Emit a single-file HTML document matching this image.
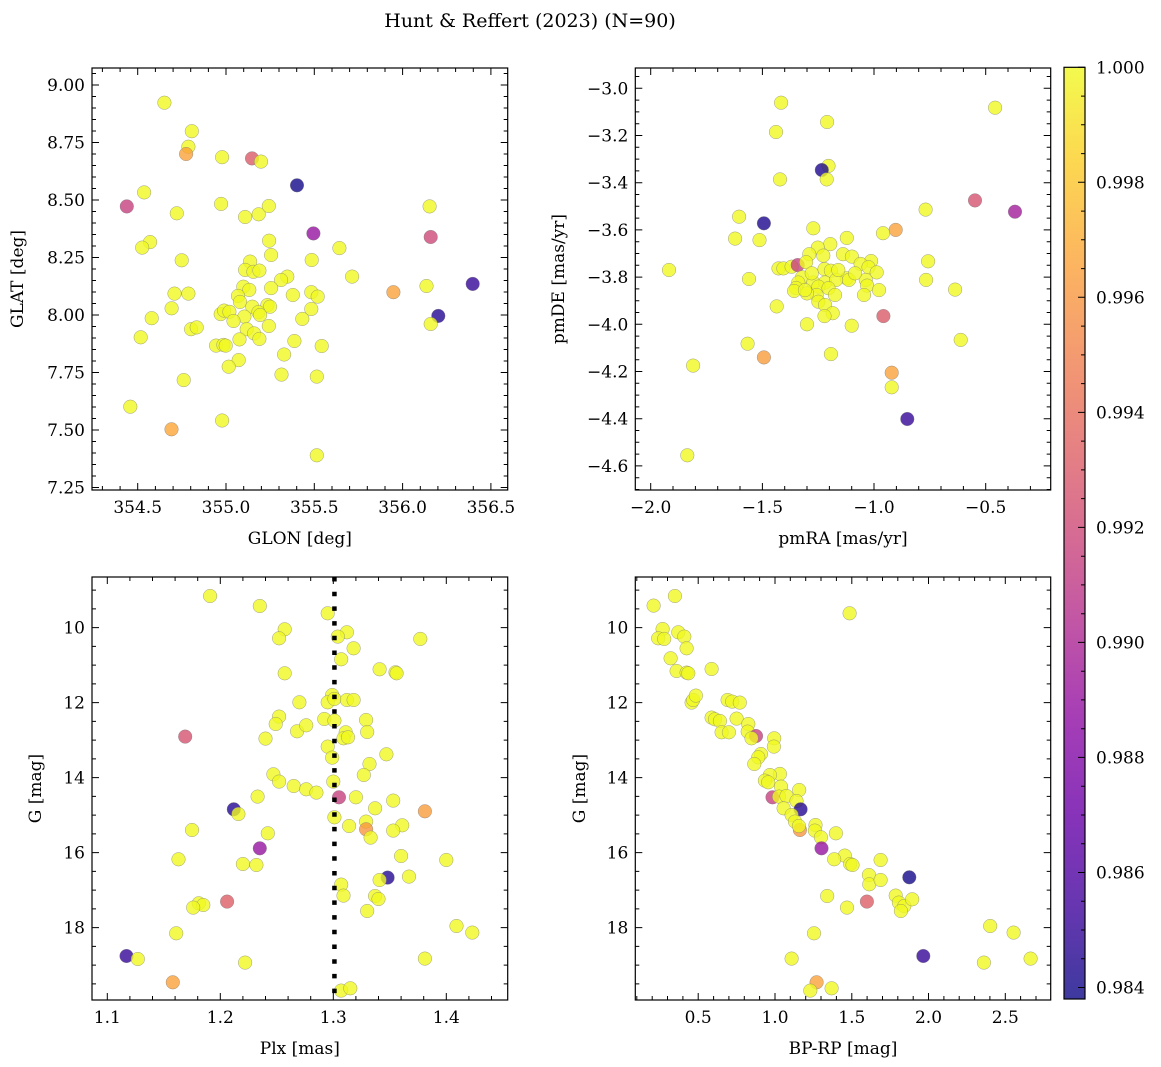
<!DOCTYPE html>
<html><head><meta charset="utf-8">
<style>
html,body{margin:0;padding:0;background:#fff;}
svg{display:block;font-family:"DejaVu Serif","Liberation Serif",serif;}
</style></head>
<body>
<svg id="fig" width="1161" height="1067" viewBox="0 0 1161 1067" xmlns="http://www.w3.org/2000/svg">
<text x="530" y="27" font-size="19" text-anchor="middle">Hunt &amp; Reffert (2023) (N=90)</text>
</svg>
<script>
// ---- data ----
const glon = [354.651,354.806,354.787,354.774,354.978,355.147,355.198,355.402,354.536,354.438,354.972,354.721,355.108,355.185,355.242,356.153,355.495,356.159,354.570,354.525,355.244,355.642,355.255,354.749,355.485,355.136,355.108,355.155,355.189,355.714,355.347,355.312,356.135,356.397,355.948,354.708,354.787,355.098,355.132,355.255,355.378,355.483,355.519,355.068,355.079,354.692,355.149,355.234,355.249,355.483,354.970,354.989,355.019,355.183,355.193,355.104,355.042,356.202,356.159,354.579,354.802,354.834,355.432,355.242,355.117,355.159,355.189,355.076,354.517,355.387,354.944,354.985,354.998,355.542,355.329,355.072,355.015,355.314,355.514,354.760,354.458,354.978,354.691,355.514];
const glat = [8.923,8.799,8.732,8.700,8.686,8.681,8.667,8.564,8.533,8.472,8.483,8.442,8.426,8.438,8.474,8.472,8.355,8.339,8.317,8.293,8.323,8.291,8.261,8.238,8.239,8.232,8.196,8.188,8.193,8.167,8.167,8.152,8.126,8.135,8.099,8.093,8.093,8.123,8.109,8.117,8.087,8.099,8.080,8.083,8.057,8.029,8.036,8.043,8.036,8.026,8.004,8.019,8.014,8.012,8.000,7.993,7.974,7.996,7.961,7.986,7.938,7.946,7.983,7.952,7.938,7.920,7.896,7.894,7.903,7.887,7.867,7.870,7.867,7.865,7.828,7.804,7.775,7.741,7.732,7.717,7.601,7.541,7.503,7.390];
const probPos = [1,1,1,0.9965,1,0.993,1,0.984,1,0.9915,1,1,1,1,1,1,0.989,0.992,1,1,1,1,1,1,1,1,1,1,1,1,1,1,1,0.985,0.9965,1,1,1,1,1,1,1,1,1,1,1,1,1,1,1,1,1,1,1,1,1,1,0.9845,1,1,1,1,1,1,1,1,1,1,1,1,1,1,1,1,1,1,1,1,1,1,1,1,0.9967,1];

const pmra = [-1.416,-0.458,-1.210,-1.439,-1.204,-1.234,-1.212,-1.421,-0.548,-0.369,-0.769,-1.604,-1.493,-1.272,-0.903,-0.960,-1.622,-1.513,-1.122,-1.196,-1.252,-1.290,-1.227,-1.139,-1.099,-1.013,-0.758,-1.918,-1.428,-1.406,-1.369,-1.342,-1.304,-1.222,-1.193,-1.060,-1.025,-0.988,-1.560,-0.767,-1.322,-1.339,-1.272,-1.122,-1.112,-1.037,-1.219,-1.170,-0.637,-1.349,-1.358,-1.249,-1.204,-1.031,-0.978,-1.045,-1.175,-1.257,-1.300,-1.249,-1.219,-1.436,-1.185,-1.222,-0.958,-1.300,-1.100,-0.612,-1.566,-1.193,-1.493,-1.810,-0.921,-0.921,-0.851,-1.836,-1.279,-1.160,-1.085,-1.309];
const pmde = [-3.061,-3.082,-3.143,-3.185,-3.329,-3.346,-3.386,-3.386,-3.475,-3.523,-3.514,-3.544,-3.572,-3.593,-3.600,-3.614,-3.637,-3.643,-3.634,-3.660,-3.675,-3.703,-3.709,-3.703,-3.713,-3.732,-3.733,-3.770,-3.763,-3.763,-3.756,-3.749,-3.737,-3.766,-3.773,-3.744,-3.758,-3.780,-3.808,-3.812,-3.801,-3.823,-3.823,-3.805,-3.812,-3.812,-3.823,-3.812,-3.853,-3.846,-3.859,-3.840,-3.847,-3.836,-3.855,-3.876,-3.876,-3.876,-3.869,-3.904,-3.918,-3.924,-3.953,-3.965,-3.965,-4.000,-4.006,-4.066,-4.082,-4.126,-4.140,-4.175,-4.205,-4.267,-4.401,-4.555,-3.784,-3.770,-3.784,-3.855];
const probPm = [1,1,1,1,1,0.9843,1,1,0.9925,0.9895,1,1,0.9843,1,0.9965,1,1,1,1,1,1,1,1,1,1,1,1,1,1,1,1,0.9915,1,1,1,1,1,1,1,1,1,1,1,1,1,1,1,1,1,1,1,1,1,1,1,1,1,1,1,1,1,1,1,1,0.993,1,1,1,1,1,0.9963,1,0.9965,1,0.985,1,1,1,1,1];

const plx = [1.191,1.235,1.295,1.257,1.252,1.312,1.304,1.377,1.318,1.307,1.257,1.341,1.355,1.356,1.270,1.299,1.295,1.301,1.312,1.318,1.252,1.249,1.292,1.301,1.329,1.268,1.276,1.330,1.169,1.240,1.311,1.309,1.313,1.295,1.299,1.347,1.332,1.327,1.247,1.252,1.265,1.276,1.285,1.300,1.305,1.320,1.233,1.353,1.337,1.381,1.212,1.216,1.301,1.329,1.314,1.361,1.329,1.353,1.333,1.175,1.242,1.235,1.360,1.163,1.400,1.220,1.232,1.348,1.341,1.367,1.307,1.309,1.337,1.340,1.181,1.185,1.176,1.206,1.330,1.409,1.423,1.161,1.117,1.127,1.222,1.381,1.158,1.307,1.315];
const gPlx = [9.156,9.422,9.618,10.044,10.284,10.124,10.240,10.302,10.551,10.844,11.218,11.111,11.191,11.218,11.991,11.796,11.991,11.902,11.929,11.929,12.373,12.569,12.436,12.480,12.462,12.764,12.604,12.782,12.907,12.960,12.791,12.951,12.924,13.173,13.467,13.378,13.636,13.929,13.911,14.107,14.222,14.311,14.400,14.107,14.524,14.524,14.507,14.613,14.818,14.898,14.844,14.969,15.058,15.173,15.289,15.271,15.378,15.413,15.600,15.396,15.484,15.884,16.089,16.178,16.196,16.302,16.329,16.667,16.729,16.640,16.853,17.147,17.156,17.236,17.351,17.396,17.467,17.307,17.556,17.956,18.133,18.151,18.756,18.836,18.933,18.827,19.458,19.680,19.618];
const probPlx = [1,1,1,1,1,1,1,1,1,1,1,1,1,1,1,1,1,1,1,1,1,1,1,1,1,1,1,1,0.9925,1,1,1,1,1,1,1,1,1,1,1,1,1,1,1,0.9915,1,1,1,1,0.9963,0.9845,1,1,1,1,1,0.996,1,1,1,1,0.989,1,1,1,1,1,0.9845,1,1,1,1,1,1,1,1,1,0.9932,1,1,1,1,0.985,1,1,1,0.9965,1,1];
const plxRef = [1.301];

const bprp = [0.209,0.348,1.486,0.268,0.239,0.278,0.370,0.409,0.424,0.320,0.359,0.424,0.435,0.587,0.457,0.467,0.485,0.691,0.721,0.771,0.587,0.609,0.641,0.652,0.700,0.750,0.826,0.822,0.876,0.847,0.995,0.993,0.908,0.891,0.865,1.032,0.967,0.934,0.956,1.039,1.158,0.984,1.026,1.075,1.140,1.167,1.056,1.108,1.130,1.162,1.156,1.264,1.260,1.299,1.397,1.303,1.455,1.386,1.490,1.505,1.688,1.612,1.614,1.688,1.875,1.340,1.469,1.599,1.786,1.807,1.842,1.820,1.894,1.254,2.402,2.554,1.108,1.966,2.361,2.665,1.271,1.230,1.369];
const gCmd = [9.413,9.156,9.618,10.036,10.284,10.302,10.124,10.240,10.551,10.818,11.156,11.200,11.218,11.102,12.000,11.929,11.813,11.929,11.973,12.000,12.400,12.444,12.489,12.791,12.791,12.427,12.569,12.773,12.889,12.951,12.951,13.173,13.369,13.458,13.636,13.902,13.929,14.080,14.124,14.240,14.329,14.524,14.507,14.489,14.622,14.844,14.818,14.996,15.173,15.396,15.289,15.262,15.413,15.591,15.484,15.884,16.080,16.178,16.302,16.329,16.196,16.596,16.844,16.729,16.658,17.156,17.467,17.307,17.147,17.333,17.422,17.556,17.244,18.151,17.956,18.133,18.827,18.756,18.933,18.827,19.458,19.680,19.618];
const probCmd = [1,1,1,1,1,1,1,1,1,1,1,1,1,1,1,1,1,1,1,1,1,1,1,1,1,1,1,1,0.9915,1,1,1,1,1,1,1,1,1,1,1,1,0.9915,1,1,1,0.9845,1,1,1,0.996,1,1,1,1,1,0.989,1,1,1,1,1,1,1,1,0.984,1,1,0.9932,1,1,1,1,1,1,1,1,1,0.985,1,1,0.9965,1,1];

const cbarTicks = ["1.000","0.998","0.996","0.994","0.992","0.990","0.988","0.986","0.984"];
const VMIN = 0.9838, VMAX = 1.0;

// ---- helpers ----
const NS = "http://www.w3.org/2000/svg";
const svg = document.getElementById('fig');
const FS = 17;
function mk(tag, attrs, parent){ const e=document.createElementNS(NS,tag); for(const k in attrs) e.setAttribute(k,attrs[k]); (parent||svg).appendChild(e); return e; }
const stops=[[0,13,8,135],[0.1,65,4,157],[0.2,106,0,168],[0.3,143,13,164],[0.4,177,42,144],[0.5,204,71,120],[0.6,225,100,98],[0.7,242,132,75],[0.8,252,166,54],[0.9,252,206,37],[1,240,249,33]];
function plasma(t){ t=Math.max(0,Math.min(1,t)); for(let i=1;i<stops.length;i++){ if(t<=stops[i][0]){ const a=stops[i-1],b=stops[i],f=(t-a[0])/(b[0]-a[0]); return `rgb(${Math.round(a[1]+f*(b[1]-a[1]))},${Math.round(a[2]+f*(b[2]-a[2]))},${Math.round(a[3]+f*(b[3]-a[3]))})`; } } return 'rgb(240,249,33)'; }
function col(p){ return plasma((p-VMIN)/(VMAX-VMIN)); }

function panel(cfg){
  const {name,x0,x1,y0,y1,xmin,xmax,ymin,ymax,invertY,xMajor,xMinor,yMajor,yMinor,xFmt,yFmt,xLabel,yLabel,yLabelX,xs,ys,ps} = cfg;
  const g = mk('g',{});
  
  
  const sx = v => x0 + (v-xmin)/(xmax-xmin)*(x1-x0);
  const sy = v => invertY ? y0 + (v-ymin)/(ymax-ymin)*(y1-y0) : y1 - (v-ymin)/(ymax-ymin)*(y1-y0);
  const clipId = name+'-clip';
  const cp = mk('clipPath',{id:clipId},g); mk('rect',{x:x0,y:y0,width:x1-x0,height:y1-y0},cp);
  const pg = mk('g',{'clip-path':`url(#${clipId})`},g);
  
  
  for(let i=0;i<xs.length;i++){
    const c = mk('circle',{cx:sx(xs[i]).toFixed(1),cy:sy(ys[i]).toFixed(1),r:6.8,fill:col(ps[i]),'fill-opacity':0.8,stroke:'#777','stroke-opacity':0.7,'stroke-width':0.5},pg);
    
    
  }
  if(cfg.extra) cfg.extra(pg,sx,sy);
  mk('rect',{x:x0,y:y0,width:x1-x0,height:y1-y0,fill:'none',stroke:'#000','stroke-width':1.2},g);
  let d='';
  const eps=1e-9;
  const xa=Math.min(xmin,xmax), xb=Math.max(xmin,xmax), ya=Math.min(ymin,ymax), yb=Math.max(ymin,ymax);
  for(let v=Math.ceil(xa/xMinor-eps)*xMinor; v<=xb+eps; v+=xMinor){ const maj=Math.abs(v/xMajor-Math.round(v/xMajor))<1e-6; const L=maj?7:4; const X=sx(v).toFixed(1); d+=`M${X},${y1}v${-L}M${X},${y0}v${L}`; }
  for(let v=Math.ceil(ya/yMinor-eps)*yMinor; v<=yb+eps; v+=yMinor){ const maj=Math.abs(v/yMajor-Math.round(v/yMajor))<1e-6; const L=maj?7:4; const Y=sy(v).toFixed(1); d+=`M${x0},${Y}h${L}M${x1},${Y}h${-L}`; }
  mk('path',{d:d,stroke:'#000','stroke-width':1,fill:'none'},g);
  for(let v=Math.ceil(xa/xMajor-eps)*xMajor; v<=xb+eps; v+=xMajor){
    const t=mk('text',{x:sx(v).toFixed(1),y:y1+23,'font-size':FS,'text-anchor':'middle'},g); t.textContent=xFmt(v);
    
    
  }
  for(let v=Math.ceil(ya/yMajor-eps)*yMajor; v<=yb+eps; v+=yMajor){
    const t=mk('text',{x:x0-7,y:(sy(v)+6).toFixed(1),'font-size':FS,'text-anchor':'end'},g); t.textContent=yFmt(v);
    
    
  }
  const xl=mk('text',{x:(x0+x1)/2,y:y1+54,'font-size':FS,'text-anchor':'middle'},g); xl.textContent=xLabel;
  
  
  const yc=(y0+y1)/2;
  const yl=mk('text',{x:yLabelX,y:yc,'font-size':FS,'text-anchor':'middle',transform:`rotate(-90 ${yLabelX} ${yc})`},g); yl.textContent=yLabel;
  
  
}
const mfmt = v => (v<0?'\u2212':'')+Math.abs(v).toFixed(1);

panel({name:'panel-position',x0:92,x1:507.7,y0:68,y1:490,xmin:354.241,xmax:356.595,ymin:7.239,ymax:9.074,
  xMajor:0.5,xMinor:0.1,yMajor:0.25,yMinor:0.05,xFmt:v=>v.toFixed(1),yFmt:v=>v.toFixed(2),
  xLabel:'GLON [deg]',yLabel:'GLAT [deg]',yLabelX:23,xs:glon,ys:glat,ps:probPos});
panel({name:'panel-proper-motion',x0:635.3,x1:1050.7,y0:68,y1:490,xmin:-2.069,xmax:-0.209,ymin:-4.702,ymax:-2.914,
  xMajor:0.5,xMinor:0.1,yMajor:0.2,yMinor:0.05,xFmt:mfmt,yFmt:mfmt,
  xLabel:'pmRA [mas/yr]',yLabel:'pmDE [mas/yr]',yLabelX:564,xs:pmra,ys:pmde,ps:probPm});
panel({name:'panel-parallax',x0:92,x1:507.7,y0:577,y1:1000,xmin:1.0865,xmax:1.4543,ymin:8.65,ymax:19.93,invertY:true,
  xMajor:0.1,xMinor:0.02,yMajor:2,yMinor:0.5,xFmt:v=>v.toFixed(1),yFmt:v=>String(Math.round(v)),
  xLabel:'Plx [mas]',yLabel:'G [mag]',yLabelX:41,xs:plx,ys:gPlx,ps:probPlx,
  extra:(pg,sx,sy)=>{ const l=mk('line',{x1:sx(plxRef[0]),x2:sx(plxRef[0]),y1:577,y2:1000,stroke:'#000','stroke-width':4.5,'stroke-dasharray':'4.5 10.2'},pg.parentNode);
    
     }});
panel({name:'panel-cmd',x0:635.3,x1:1050.7,y0:577,y1:1000,xmin:0.090,xmax:2.796,ymin:8.65,ymax:19.93,invertY:true,
  xMajor:0.5,xMinor:0.1,yMajor:2,yMinor:0.5,xFmt:v=>v.toFixed(1),yFmt:v=>String(Math.round(v)),
  xLabel:'BP-RP [mag]',yLabel:'G [mag]',yLabelX:585,xs:bprp,ys:gCmd,ps:probCmd});

// colorbar
(function(){
  const x0=1064,x1=1085,y0=67.3,y1=999;
  const g=mk('g',{});
  
  
  const defs=mk('defs',{},g);
  const lg=mk('linearGradient',{id:'cbgrad',x1:0,y1:1,x2:0,y2:0},defs);
  for(let i=0;i<=20;i++){ mk('stop',{offset:i/20,'stop-color':plasma(i/20)},lg); }
  mk('rect',{x:x0,y:y0,width:x1-x0,height:y1-y0,fill:'url(#cbgrad)','fill-opacity':0.8},g);
  mk('rect',{x:x0,y:y0,width:x1-x0,height:y1-y0,fill:'none',stroke:'#000','stroke-width':1.2},g);
  const sy=v=>y1-(v-VMIN)/(VMAX-VMIN)*(y1-y0);
  let d='';
  for(let k=0;k<=40;k++){ const v=0.984+k*0.0005; if(v>VMAX+1e-9) break; const maj=k%4===0; const Y=sy(v).toFixed(1); d+=`M${x1},${Y}h${maj?-7:-4}`; }
  mk('path',{d:d,stroke:'#000','stroke-width':1},g);
  cbarTicks.forEach(s=>{ const v=parseFloat(s); const t=mk('text',{x:x1+11,y:(sy(v)+6).toFixed(1),'font-size':FS},g); t.textContent=s;
    
     });
})();
</script>
</body></html>
